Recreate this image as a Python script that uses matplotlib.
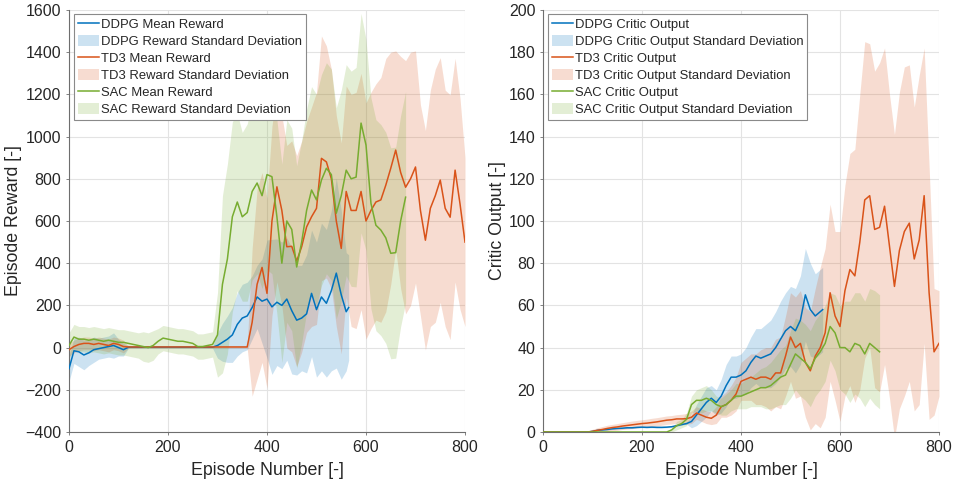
import numpy as np
import matplotlib
matplotlib.use("Agg")
import matplotlib.pyplot as plt
from matplotlib.lines import Line2D
from matplotlib.patches import Patch

plt.rcParams['font.family'] = ['Liberation Sans', 'DejaVu Sans']

# ---------------- data ----------------
# Episode Reward (left panel), sampled every 10 episodes
ddpg_rew_ep = list(range(0, 570, 10)) + [565]
ddpg_rew_mean = [-100, -15, -20, -35, -25, -10, -5, 0, 5, 10, 0, -10,
                 2, 2, 2, 2, 2, 2, 2, 2, 2, 2, 2, 2, 2, 2, 2, 2, 2, 2,
                 10, 25, 40, 60, 110, 140, 150, 190, 240, 220, 230, 193, 215, 200, 230, 175,
                 130, 140, 160, 257, 180, 240, 210, 270, 353, 250, 170, 190]
ddpg_rew_std = [60, 60, 70, 70, 60, 60, 50, 50, 50, 60, 40, 30,
                5, 5, 5, 5, 5, 5, 5, 5, 5, 5, 5, 5, 5, 5, 5, 5, 5, 5,
                60, 90, 110, 130, 150, 160, 160, 150, 150, 200, 280, 320, 300, 300, 290, 300,
                260, 250, 280, 300, 320, 350, 350, 380, 450, 400, 280, 250]

td3_rew_ep = list(range(0, 810, 10))
td3_rew_mean = [-10, 5, 15, 20, 20, 15, 20, 15, 10, 20, 15, 5,
                3, 3, 3, 3, 3, 3, 3, 3, 3, 3, 3, 3, 3, 3, 3, 3, 3, 3, 3, 3, 3, 3, 3, 3, 3,
                120, 300, 380, 257, 600, 762, 650, 478, 480, 410, 478, 572, 620, 660, 897, 880, 800,
                600, 470, 740, 650, 650, 740, 600, 650, 690, 700, 770, 850, 936, 830, 760, 800,
                856, 650, 509, 660, 720, 794, 660, 618, 841, 680, 500]
td3_rew_std = [30, 30, 30, 30, 30, 30, 30, 30, 30, 30, 30, 30,
               5, 5, 5, 5, 5, 5, 5, 5, 5, 5, 5, 5, 5, 5, 5, 5, 5, 5, 5, 5, 5, 5, 5, 5, 5,
               350, 450, 450, 450, 450, 450, 450, 480, 500, 500, 500, 500, 520, 550, 580, 550, 520,
               500, 500, 500, 550, 560, 560, 560, 560, 560, 580, 600, 550, 470, 550, 600, 600,
               550, 500, 520, 560, 600, 580, 560, 580, 530, 500, 400]

sac_rew_ep = list(range(0, 690, 10))
sac_rew_mean = [10, 50, 40, 40, 35, 40, 35, 30, 35, 30, 25, 25, 20, 15, 10, 5, 0, 10, 30, 45,
                40, 35, 30, 30, 25, 20, 5, 5, 10, 15, 60, 300, 420, 620, 690, 620, 640, 740, 780, 720,
                820, 810, 620, 400, 600, 560, 382, 500, 650, 747, 700, 794, 850, 820, 637, 720,
                841, 800, 808, 1064, 960, 684, 580, 557, 520, 447, 450, 600, 713]
sac_rew_std = [60, 60, 60, 60, 60, 60, 60, 60, 60, 60, 60, 60, 60, 60, 60, 70, 70, 70, 60, 60,
               60, 60, 60, 60, 60, 60, 60, 60, 60, 60, 200, 420, 450, 450, 420, 400, 420, 420, 430, 440,
               450, 460, 460, 470, 480, 480, 480, 480, 480, 490, 500, 500, 500, 500, 500, 500,
               500, 510, 520, 520, 500, 500, 500, 500, 500, 500, 500, 500, 500]

# Critic Output (right panel)
ddpg_crit_ep = list(range(0, 570, 10)) + [565]
ddpg_crit_mean = [0, 0, 0, 0, 0, 0, 0, 0, 0, 0, 0.3, 0.8, 1, 1.2, 1.5, 1.7, 1.8, 2, 2, 2.2,
                  2.3, 2.2, 2.3, 2.2, 2.2, 2.3, 2.5, 3, 3.5, 4, 5, 8, 11, 14, 16, 14, 17, 22, 26, 26,
                  27, 29, 33, 36, 35, 36, 37, 40, 44, 48, 50, 48, 53, 65, 58, 55, 57, 58]
ddpg_crit_std = [0.3] * 30 + [3, 5, 6, 7, 6, 6, 8, 10, 10, 10, 10, 11, 12, 13, 14, 15, 16, 17,
                              18, 18, 19, 20, 21, 22, 22, 20, 20, 20]

td3_crit_ep = list(range(0, 810, 10))
td3_crit_mean = [0, 0, 0, 0, 0, 0, 0, 0, 0, 0, 0.3, 0.8, 1.2, 1.7, 2.1, 2.4, 2.8, 3.1, 3.4, 3.7,
                 4, 4.2, 4.5, 4.8, 5.2, 5.6, 5.8, 6.2, 6.2, 6.3, 7, 9, 8, 7, 6.5, 8, 12, 13, 15, 18,
                 24, 25, 26, 25, 26, 26, 25, 28, 28, 36, 45, 40, 42, 33, 29, 36, 40, 47, 66, 55,
                 50, 67, 77, 74, 90, 110, 112, 96, 97, 107, 88, 69, 86, 95, 99, 82, 91, 112, 66, 38, 42]
td3_crit_std = [0.2] * 10 + [1, 1.2, 1.4, 1.5, 1.5, 1.6, 1.6, 1.7, 1.8, 1.8, 1.8, 1.9, 2, 2, 2, 2,
                             2, 2, 2.2, 2.5, 3, 3, 3, 3, 3, 4, 5, 6, 7, 8, 9, 10, 11, 12, 13, 14,
                             15, 16, 17, 19, 21, 24, 25, 26, 28, 32, 38, 40, 42, 40, 45, 50, 55,
                             60, 70, 75, 72, 75, 78, 75, 72, 72, 75, 78, 75, 72, 78, 70, 60, 30, 25]

sac_crit_ep = list(range(0, 690, 10))
sac_crit_mean = [0] * 26 + [1, 3, 4, 6, 13, 15, 15, 16, 15, 13, 12, 13, 15, 17, 17, 18, 19, 20,
                            21, 21, 22, 24, 26, 27, 32, 37, 35, 33, 30, 35, 38, 42, 50, 47, 40,
                            40, 38, 42, 41, 37, 42, 40, 38]
sac_crit_std = [0.1] * 26 + [1, 2, 2, 3, 4, 5, 6, 6, 5, 4, 4, 5, 5, 6, 6, 7, 7, 8, 9, 10, 11,
                             12, 13, 14, 16, 17, 18, 18, 18, 18, 18, 18, 16, 18, 20, 22, 24,
                             24, 25, 25, 26, 27, 27]

names = ['DDPG', 'TD3', 'SAC']
colors = ['#0072BD', '#D95319', '#77AC30']

# ---------------- figure ----------------
fig = plt.figure(figsize=(9.54, 4.86), dpi=100)
W, H = 954, 486
ax1 = fig.add_axes([69 / W, (H - 432) / H, 396 / W, 422 / H])
ax2 = fig.add_axes([543 / W, (H - 432) / H, 396 / W, 422 / H])

txtc = '#262626'


def draw(ax, series, mean_lbl, std_lbl):
    handles, labels = [], []
    for (ep, m, s), name, c in zip(series, names, colors):
        ep = np.asarray(ep, float)
        m = np.asarray(m, float)
        s = np.asarray(s, float)
        ax.fill_between(ep, m - s, m + s, color=c, alpha=0.2, linewidth=0, zorder=1)
    for (ep, m, s), name, c in zip(series, names, colors):
        ax.plot(ep, m, color=c, lw=1.1, zorder=3)
        handles += [Line2D([], [], color=c, lw=1.1), Patch(facecolor=c, alpha=0.2, linewidth=0)]
        labels += [f'{name} {mean_lbl}', f'{name} {std_lbl}']
    leg = ax.legend(handles, labels, loc='upper left', bbox_to_anchor=(5 / 396, 1 - 4 / 422),
                    borderaxespad=0, fontsize=9.4, frameon=True, fancybox=False,
                    edgecolor='#8a8a8a', framealpha=1, handlelength=1.6, handletextpad=0.15,
                    labelspacing=0.31, borderpad=0.3, handleheight=0.9)
    leg.get_frame().set_linewidth(0.8)
    for t in leg.get_texts():
        t.set_color(txtc)
    ax.grid(True, color='#e3e3e3', lw=0.8)
    ax.set_axisbelow(True)
    for sp in ['top', 'right']:
        ax.spines[sp].set_visible(False)
    for sp in ['left', 'bottom']:
        ax.spines[sp].set_color('#6e6e6e')
        ax.spines[sp].set_linewidth(0.8)
    ax.tick_params(direction='out', length=2.5, width=0.6, colors='#6e6e6e',
                   labelcolor=txtc, labelsize=11.5, pad=3)
    ax.set_xlim(0, 800)
    ax.set_xticks([0, 200, 400, 600, 800])
    ax.set_xlabel('Episode Number [-]', fontsize=12.8, color=txtc, labelpad=5)


draw(ax1, [(ddpg_rew_ep, ddpg_rew_mean, ddpg_rew_std),
           (td3_rew_ep, td3_rew_mean, td3_rew_std),
           (sac_rew_ep, sac_rew_mean, sac_rew_std)],
     'Mean Reward', 'Reward Standard Deviation')
ax1.set_ylim(-400, 1600)
ax1.set_yticks(range(-400, 1601, 200))
ax1.set_ylabel('Episode Reward [-]', fontsize=12.8, color=txtc, labelpad=2)

draw(ax2, [(ddpg_crit_ep, ddpg_crit_mean, ddpg_crit_std),
           (td3_crit_ep, td3_crit_mean, td3_crit_std),
           (sac_crit_ep, sac_crit_mean, sac_crit_std)],
     'Critic Output', 'Critic Output Standard Deviation')
ax2.set_ylim(0, 200)
ax2.set_yticks(range(0, 201, 20))
ax2.set_ylabel('Critic Output [-]', fontsize=12.8, color=txtc, labelpad=2)

fig.savefig('out.png', dpi=100)
